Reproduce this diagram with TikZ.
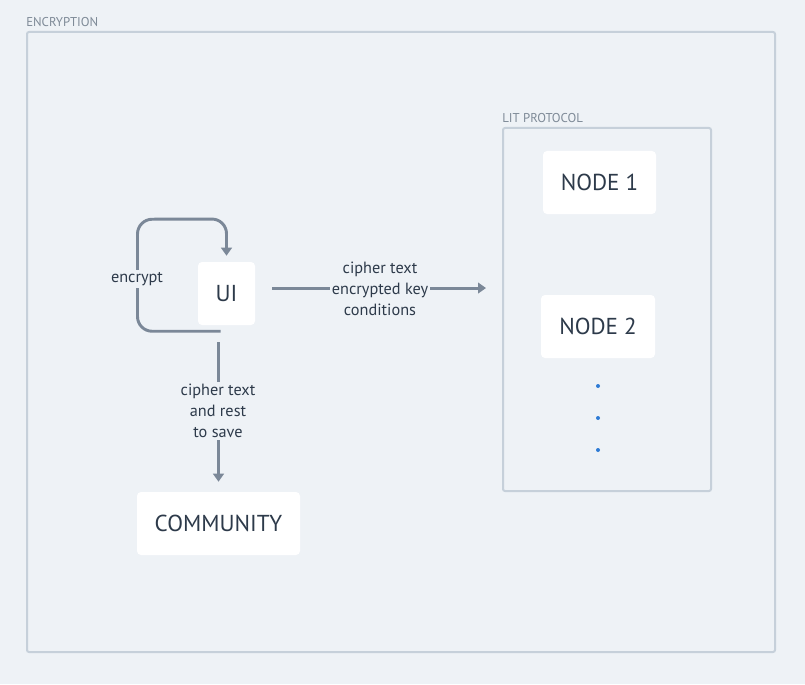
\documentclass[tikz,border=0pt]{standalone}
\usepackage{fontspec}
\setmainfont{PT Sans}
\usetikzlibrary{arrows.meta}
\definecolor{bg}{HTML}{EEF2F6}
\definecolor{frame}{HTML}{C6D0DA}
\definecolor{txt}{HTML}{2D3A4A}
\definecolor{cap}{HTML}{7E8A97}
\definecolor{arr}{HTML}{7B8898}
\definecolor{dotc}{HTML}{2E7BD5}
\tikzset{
  container/.style={draw=frame, line width=1.5pt, rounded corners=1.5pt, inner sep=0pt},
  cont label/.style={text=cap, font=\fontsize{9.6}{11}\selectfont, anchor=base west, inner sep=0pt},
  box/.style={fill=white, rounded corners=3pt, text=txt, font=\fontsize{17.3}{20}\selectfont, inner sep=0pt},
  conn/.style={draw=arr, line width=2.2pt, -{Triangle[length=6pt,width=8pt]}},
  elabel/.style={fill=bg, text=txt, font=\fontsize{12.2}{15.75}\selectfont, align=center, inner sep=1.5pt},
}
\begin{document}
\begin{tikzpicture}[x=0.75pt,y=-0.75pt]
\useasboundingbox[fill=bg] (0,0) rectangle (805,684);
% containers
\node[container, minimum width=748*0.75pt, minimum height=620*0.75pt] (enc) at (401,342) {};
\node[cont label] (enclab) at (26,27) {ENCRYPTION};
\node[container, minimum width=208*0.75pt, minimum height=363*0.75pt] (lit) at (607,309.5) {};
\node[cont label] (litlab) at (502,123) {LIT PROTOCOL};
% nodes
\node[box, minimum width=113*0.75pt, minimum height=63*0.75pt] (n1) at (599.5,182.5) {NODE 1};
\node[box, minimum width=114*0.75pt, minimum height=63*0.75pt] (n2) at (598,326.5) {NODE 2};
\node[box, minimum width=57*0.75pt, minimum height=63*0.75pt] (ui) at (226.5,293.5) {UI};
\node[box, minimum width=163*0.75pt, minimum height=63*0.75pt] (comm) at (218.5,523.5) {COMMUNITY};
% dots
\foreach \yy/\nm in {386/d1,418/d2,450/d3}
  \fill[dotc] (598,\yy) circle[radius=2] coordinate (\nm);
% loop
\draw[conn, rounded corners=11pt, shorten >=6*0.75pt]
  ([shift={(-6,6)}]ui.south) -- ++(-83,0) -- ++(0,-112) -- (ui.north |- 0,219) -- (ui.north);
\node[elabel] (enclbl) at (137,279) {encrypt};
% to lit
\draw[conn, shorten <=17*0.75pt, shorten >=16*0.75pt]
  ([yshift=4.1pt]ui.east) -- ([yshift=16.1pt]lit.west);
\node[elabel] (litlbl) at (380,289) {cipher text\\encrypted key\\conditions};
% to community
\draw[conn, shorten <=17*0.75pt, shorten >=10*0.75pt]
  (ui.south -| comm.north) -- (comm.north);
\node[elabel] (comlbl) at (218,411) {cipher text\\and rest\\to save};
\end{tikzpicture}
\end{document}
